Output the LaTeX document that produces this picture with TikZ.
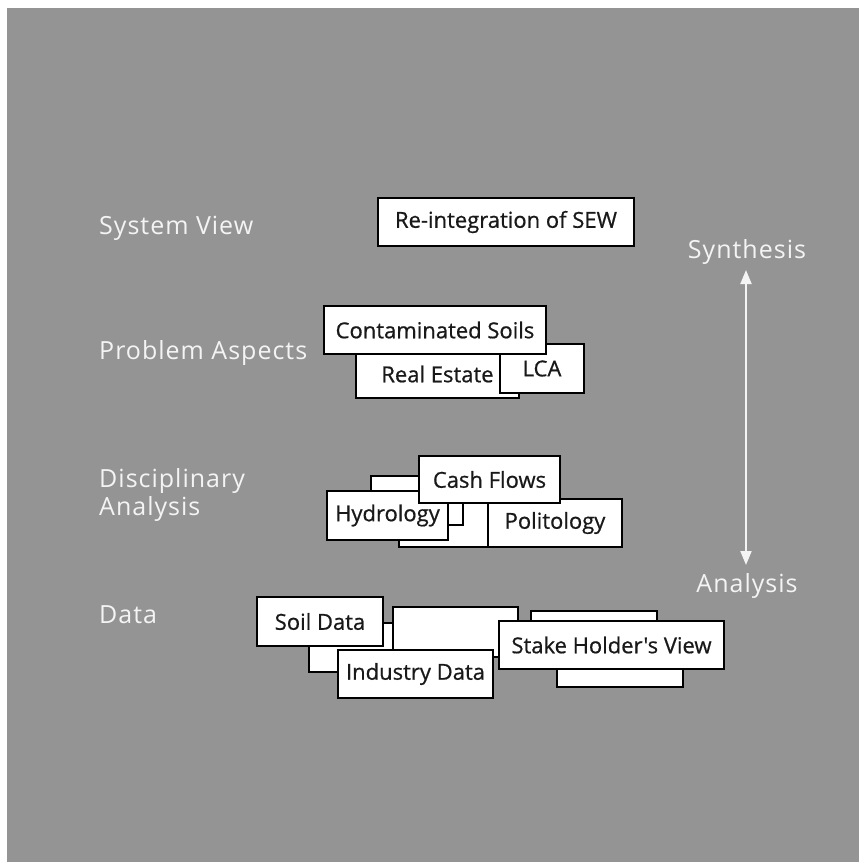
\documentclass[tikz,border=0pt]{standalone}
\usepackage{fontspec}
\setmainfont{Open Sans}
\newfontfamily\labfont[LetterSpace=4]{Open Sans}
\newfontfamily\boxfont[FakeBold=0.7]{Open Sans}
\usetikzlibrary{arrows.meta}
\definecolor{bggray}{HTML}{949494}
\definecolor{labwhite}{HTML}{F4F4F4}
\tikzset{
  box/.style={draw=black, fill=white, line width=1.6pt, inner sep=0pt, text=black!90, font=\boxfont\fontsize{22}{25}\selectfont},
  lab/.style={text=labwhite, anchor=base west, inner sep=0pt, font=\labfont\fontsize{25}{28}\selectfont},
  axis/.style={draw=labwhite, line width=2pt, {Triangle[width=11pt,length=14pt]}-{Triangle[width=11pt,length=14pt]}}
}
\newcommand{\bx}[6]{% name, x1, y1, x2, y2, text
  \node[box, minimum width={#4-#2}, minimum height={#5-#3}] (#1) at ({(#2+#4)/2},{(#3+#5)/2}) {#6};}
\begin{document}
\begin{tikzpicture}[x=1pt,y=-1pt]
\useasboundingbox (0,0) rectangle (859,862);
\fill[white] (0,0) rectangle (859,862);
\fill[bggray] (7,8) rectangle (859,862);

% left labels
\node[lab] (sysv) at (99,234) {System View};
\node[lab] (prob) at (99,359) {Problem Aspects};
\node[lab] (disc) at (99,487) {Disciplinary};
\node[lab] (disa) at (99,515) {Analysis};
\node[lab] (data) at (99,623) {Data};

% right axis
\node[lab, anchor=base] (syn) at (747,258) {Synthesis};
\node[lab, anchor=base] (ana) at (747,592) {Analysis};
\coordinate (atop) at (746,270);
\coordinate (abot) at (746,565);
\draw[axis] (atop) -- (abot);

% system view
\bx{sew}{378}{198}{634}{246}{Re-integration of SEW}

% problem aspects
\bx{re}{356}{350}{519}{398}{Real Estate}
\bx{lca}{500}{344}{584}{393}{LCA}
\bx{cs}{324}{306}{546}{354}{Contaminated Soils}

% disciplinary analysis
\bx{hb}{399}{495}{530}{547}{}
\bx{ha}{371}{476}{463}{525}{}
\bx{hyd}{327}{491}{448}{540}{Hydrology}
\bx{pol}{488}{499}{622}{547}{Politology}
\bx{cf}{419}{456}{560}{503}{Cash Flows}

% data
\bx{dc}{309}{623}{430}{672}{}
\bx{dd}{393}{607}{518}{657}{}
\bx{df}{557}{640}{683}{687}{}
\bx{de}{531}{611}{657}{660}{}
\bx{soil}{257}{597}{383}{646}{Soil Data}
\bx{ind}{338}{650}{493}{698}{Industry Data}
\bx{shv}{499}{621}{724}{669}{Stake Holder's View}
\end{tikzpicture}
\end{document}
